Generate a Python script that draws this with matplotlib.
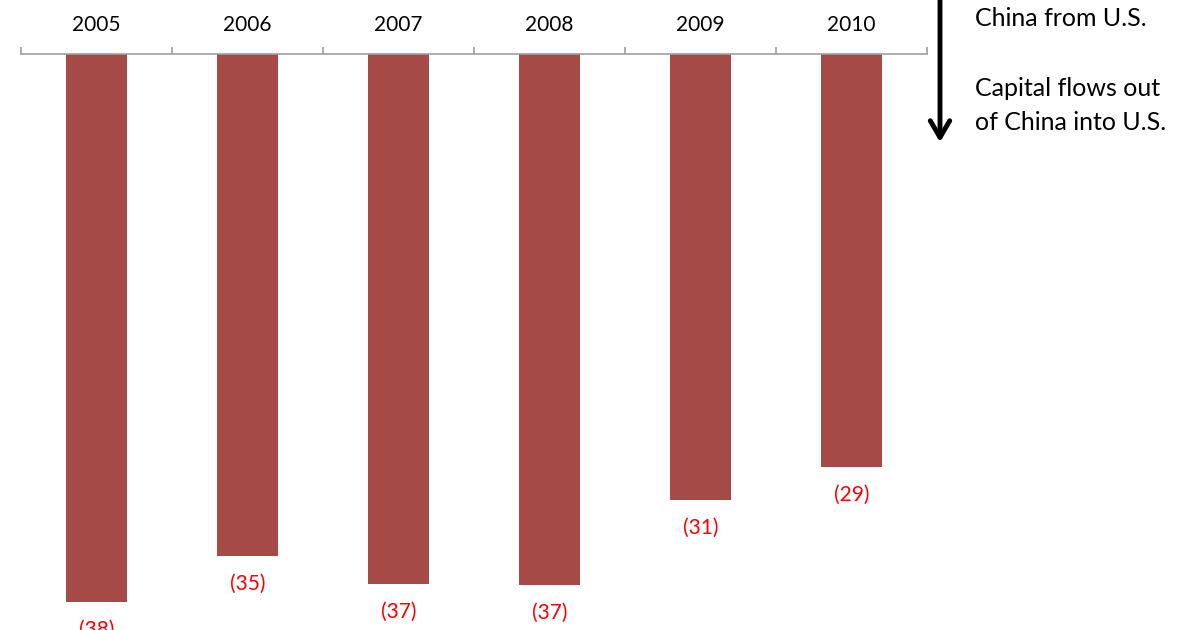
import matplotlib.pyplot as plt
import numpy as np

years = ['2005', '2006', '2007', '2008', '2009', '2010']
flows = [-38.2, -35.0, -36.9, -37.0, -31.1, -28.8]
labels = ['(38)', '(35)', '(37)', '(37)', '(31)', '(29)']

plt.rcParams['font.family'] = ['Lato', 'DejaVu Sans']

fig = plt.figure(figsize=(12, 6.3), dpi=100)
ax = fig.add_axes([21 / 1200, 0, 906 / 1200, 576 / 630])

x = np.arange(len(years))
ax.bar(x, flows, width=0.4, color='#a64a47', zorder=2)
ax.set_xlim(-0.5, len(years) - 0.5)
ax.set_ylim(-40.14, 0)

for xi, v, lab in zip(x, flows, labels):
    ax.annotate(lab, (xi, v), xytext=(0, -28), textcoords='offset pixels',
                ha='center', va='center', color='#ff0000', fontsize=15,
                annotation_clip=False)

ax.xaxis.tick_top()
ax.set_xticks(x)
ax.set_xticklabels(years, fontsize=15)
ax.set_xticks(np.arange(-0.5, len(years)), minor=True)
ax.tick_params(axis='x', which='major', length=0, pad=14)
ax.tick_params(axis='x', which='minor', length=5, color='#a0a0a0', width=1.2)
ax.set_yticks([])
for s in ['left', 'right', 'bottom']:
    ax.spines[s].set_visible(False)
ax.spines['top'].set_color('#a0a0a0')
ax.spines['top'].set_linewidth(1.2)

# arrow and side notes
fig.patches.append(plt.matplotlib.patches.FancyArrowPatch(
    (940 / 1200, 1.02), (940 / 1200, 1 - 145 / 630), transform=fig.transFigure,
    arrowstyle='->,head_length=0.6,head_width=0.35', lw=3.5, color='black',
    mutation_scale=20))
fig.text(975 / 1200, 1 - 18 / 630, 'China from U.S.', fontsize=18,
         va='center', ha='left')
fig.text(975 / 1200, 1 - 88 / 630, 'Capital flows out', fontsize=18,
         va='center', ha='left')
fig.text(975 / 1200, 1 - 122 / 630, 'of China into U.S.', fontsize=18,
         va='center', ha='left')

fig.savefig('out.png', dpi=100)
